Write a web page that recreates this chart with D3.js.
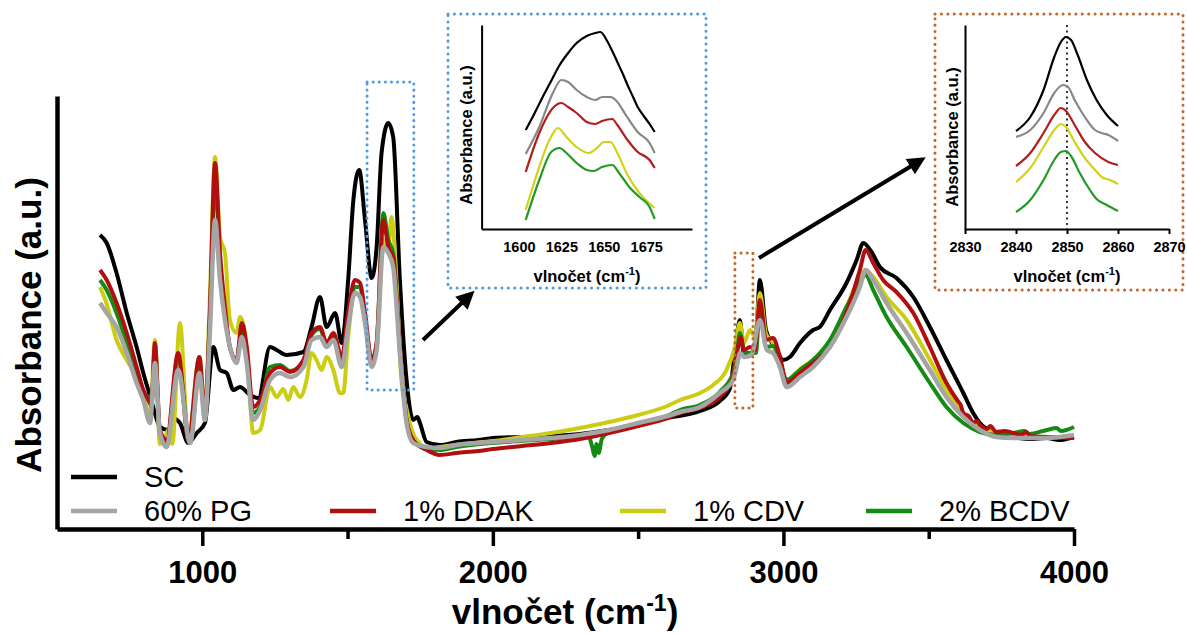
<!DOCTYPE html>
<html>
<head>
<meta charset="utf-8">
<script src="https://cdnjs.cloudflare.com/ajax/libs/d3/7.8.5/d3.min.js"></script>
<style>
  body { margin: 0; background: #fff; }
  svg { display: block; font-family: "Liberation Sans", Arial, sans-serif; }
</style>
</head>
<body>
<svg id="ftirChart" width="1187" height="634"></svg>
<script>
// FTIR spectra: [wavenumber cm-1, absorbance a.u.]
var scSpectrum = [[648,.294],[671,.286],[705,.256],[740,.216],[774,.182],[797,.156],[814,.139],[831,.122],[854,.102],[883,.099],[905,.110],[923,.106],[952,.086],[981,.096],[1009,.106],[1038,.182],[1061,.159],[1084,.156],[1107,.139],[1130,.142],[1164,.134],[1193,.131],[1233,.182],[1256,.179],[1290,.174],[1348,.177],[1376,.202],[1405,.232],[1428,.202],[1457,.216],[1480,.186],[1502,.249],[1520,.329],[1540,.359],[1560,.309],[1583,.251],[1600,.282],[1617,.376],[1640,.406],[1657,.392],[1680,.249],[1703,.149],[1726,.109],[1740,.112],[1749,.106],[1772,.087],[1818,.084],[1875,.087],[1950,.089],[2000,.091],[2100,.092],[2200,.093],[2300,.095],[2400,.099],[2500,.104],[2600,.111],[2713,.118],[2781,.128],[2815,.140],[2833,.176],[2850,.209],[2864,.174],[2890,.174],[2905,.190],[2919,.249],[2940,.199],[2959,.187],[2976,.179],[2999,.169],[3022,.172],[3057,.186],[3102,.199],[3125,.202],[3160,.219],[3217,.246],[3252,.269],[3275,.286],[3303,.277],[3332,.262],[3389,.251],[3447,.232],[3504,.202],[3561,.169],[3619,.136],[3653,.116],[3676,.106],[3733,.096],[3791,.092],[3850,.090],[3906,.091],[3950,.089],[4000,.092]];

var pgSpectrum = [[648,.226],[671,.216],[705,.202],[740,.176],[774,.146],[797,.129],[820,.106],[837,.166],[854,.096],[877,.082],[917,.159],[958,.086],[990,.156],[1009,.109],[1026,.196],[1044,.309],[1061,.249],[1078,.209],[1095,.182],[1118,.166],[1136,.192],[1153,.166],[1175,.109],[1199,.119],[1233,.149],[1267,.156],[1302,.152],[1348,.162],[1376,.189],[1405,.192],[1428,.182],[1451,.189],[1480,.162],[1502,.202],[1525,.236],[1543,.232],[1560,.206],[1583,.162],[1600,.179],[1623,.282],[1640,.276],[1657,.262],[1680,.176],[1703,.106],[1726,.086],[1772,.082],[1818,.081],[1875,.084],[1950,.086],[2000,.087],[2100,.089],[2200,.091],[2300,.094],[2400,.099],[2500,.106],[2600,.113],[2644,.117],[2713,.122],[2781,.136],[2827,.149],[2844,.169],[2850,.176],[2866,.172],[2890,.174],[2919,.209],[2943,.179],[2964,.176],[2988,.162],[3011,.142],[3057,.152],[3102,.162],[3160,.182],[3217,.212],[3263,.242],[3283,.259],[3309,.249],[3355,.226],[3424,.196],[3504,.159],[3561,.132],[3619,.112],[3676,.099],[3733,.092],[3791,.091],[3906,.091],[4000,.094]];

var ddakSpectrum = [[648,.259],[671,.249],[705,.226],[740,.196],[774,.162],[797,.139],[814,.129],[825,.125],[837,.186],[854,.099],[877,.089],[917,.176],[952,.089],[990,.172],[1009,.116],[1026,.216],[1044,.366],[1061,.276],[1078,.222],[1095,.182],[1118,.169],[1136,.206],[1153,.182],[1175,.122],[1199,.129],[1233,.156],[1267,.162],[1302,.157],[1348,.169],[1376,.196],[1405,.202],[1428,.186],[1451,.196],[1480,.172],[1502,.216],[1525,.249],[1543,.246],[1560,.216],[1583,.169],[1600,.186],[1623,.309],[1640,.282],[1657,.272],[1680,.182],[1703,.109],[1726,.089],[1772,.079],[1818,.074],[1875,.076],[1950,.078],[2000,.080],[2100,.083],[2200,.086],[2300,.090],[2400,.096],[2500,.103],[2600,.111],[2644,.116],[2713,.121],[2781,.132],[2827,.152],[2844,.182],[2853,.192],[2864,.179],[2885,.182],[2902,.179],[2919,.229],[2940,.189],[2964,.191],[2988,.172],[3011,.146],[3057,.156],[3102,.166],[3160,.182],[3217,.216],[3263,.259],[3283,.279],[3309,.266],[3343,.249],[3389,.237],[3447,.216],[3504,.182],[3561,.146],[3600,.128],[3610,.124],[3619,.116],[3640,.112],[3652,.106],[3665,.108],[3676,.104],[3700,.100],[3712,.103],[3733,.097],[3760,.098],[3791,.096],[3820,.094],[3835,.097],[3850,.093],[3906,.092],[4000,.091]];

var cdvSpectrum = [[648,.242],[671,.225],[705,.189],[740,.169],[774,.152],[797,.136],[820,.112],[837,.189],[854,.085],[870,.090],[885,.100],[897,.085],[923,.206],[952,.089],[990,.172],[1009,.116],[1026,.232],[1044,.372],[1061,.292],[1078,.276],[1095,.209],[1118,.196],[1130,.212],[1153,.182],[1175,.096],[1199,.099],[1233,.142],[1256,.132],[1279,.140],[1296,.129],[1313,.142],[1336,.132],[1359,.149],[1376,.176],[1393,.169],[1411,.159],[1428,.172],[1451,.159],[1474,.136],[1485,.136],[1502,.192],[1525,.242],[1543,.242],[1560,.209],[1583,.165],[1600,.179],[1623,.289],[1640,.282],[1651,.312],[1668,.250],[1685,.150],[1703,.120],[1726,.095],[1750,.085],[1772,.080],[1818,.082],[1900,.085],[2000,.088],[2100,.092],[2200,.096],[2300,.101],[2400,.107],[2500,.114],[2600,.123],[2644,.129],[2713,.136],[2758,.144],[2804,.159],[2833,.182],[2850,.206],[2864,.186],[2885,.199],[2902,.192],[2919,.236],[2940,.195],[2964,.186],[2988,.162],[3011,.149],[3057,.160],[3102,.169],[3160,.186],[3217,.222],[3263,.252],[3283,.259],[3309,.252],[3355,.232],[3424,.209],[3504,.169],[3561,.139],[3619,.116],[3676,.102],[3733,.096],[3791,.092],[4000,.092]];

var bcdvSpectrum = [[648,.249],[671,.239],[705,.216],[740,.186],[774,.156],[797,.136],[814,.132],[825,.122],[837,.179],[854,.096],[877,.086],[917,.169],[958,.086],[990,.162],[1009,.112],[1026,.210],[1044,.349],[1061,.265],[1078,.215],[1095,.182],[1118,.169],[1136,.198],[1153,.175],[1175,.116],[1199,.122],[1233,.162],[1267,.164],[1302,.158],[1348,.168],[1376,.194],[1405,.200],[1428,.185],[1451,.193],[1480,.166],[1502,.210],[1525,.242],[1543,.242],[1560,.212],[1583,.168],[1600,.185],[1623,.316],[1640,.289],[1657,.276],[1680,.180],[1703,.109],[1726,.088],[1772,.080],[1818,.079],[1875,.082],[2000,.086],[2100,.088],[2200,.090],[2300,.093],[2330,.092],[2342,.082],[2350,.073],[2357,.085],[2364,.076],[2375,.090],[2400,.097],[2500,.105],[2600,.113],[2644,.119],[2713,.124],[2781,.137],[2827,.156],[2844,.186],[2850,.196],[2866,.177],[2890,.176],[2905,.176],[2919,.222],[2940,.182],[2964,.183],[2988,.169],[3011,.149],[3057,.159],[3102,.169],[3160,.189],[3217,.222],[3263,.247],[3283,.254],[3309,.239],[3355,.212],[3424,.182],[3504,.146],[3561,.122],[3619,.106],[3676,.097],[3733,.094],[3791,.096],[3830,.098],[3845,.095],[3906,.099],[3940,.101],[3955,.098],[4000,.102]];

// amide I zoom (1600-1675 cm-1)
var amideSC = [[1604,.099],[1609,.115],[1614,.132],[1619,.148],[1624,.164],[1629,.176],[1634,.186],[1640,.193],[1645,.196],[1648,.197],[1652,.188],[1655,.178],[1658,.167],[1661,.156],[1664,.144],[1667,.133],[1670,.122],[1674,.112],[1677,.105],[1680,.097]];
var amidePG = [[1604,.075],[1612,.102],[1620,.136],[1625,.149],[1629,.147],[1634,.139],[1640,.132],[1645,.129],[1649,.132],[1654,.132],[1657,.129],[1663,.114],[1670,.097],[1677,.086],[1680,.076]];
var amideDDAK = [[1604,.057],[1612,.096],[1620,.121],[1625,.126],[1629,.122],[1634,.116],[1640,.107],[1645,.105],[1649,.108],[1655,.110],[1658,.104],[1664,.089],[1670,.077],[1677,.069],[1680,.061]];
var amideCDV = [[1604,.019],[1610,.052],[1618,.089],[1623,.101],[1628,.092],[1634,.082],[1641,.076],[1646,.081],[1650,.087],[1654,.087],[1658,.076],[1664,.054],[1671,.036],[1680,.021]];
var amideBCDV = [[1604,.009],[1612,.049],[1619,.077],[1624,.081],[1628,.076],[1634,.066],[1640,.059],[1644,.058],[1649,.062],[1655,.064],[1659,.056],[1665,.042],[1671,.032],[1677,.022],[1680,.010]];

// CH2 symmetric stretch zoom (2840-2860 cm-1)
var ch2SC = [[2840,.098],[2842.8,.112],[2845.4,.139],[2847.5,.172],[2848.8,.187],[2849.8,.192],[2850.8,.189],[2852.1,.174],[2853.9,.149],[2855.8,.129],[2857.8,.114],[2860,.103]];
var ch2PG = [[2840,.092],[2842.8,.099],[2845.4,.116],[2847.5,.136],[2849.2,.144],[2850.2,.142],[2851.5,.129],[2853.5,.112],[2855.5,.099],[2856.8,.096],[2858.1,.094],[2860,.088]];
var ch2DDAK = [[2840,.063],[2842.8,.076],[2845.4,.096],[2847.5,.114],[2848.8,.121],[2849.8,.118],[2851.5,.104],[2853.5,.087],[2855.5,.076],[2858.1,.067],[2860,.064]];
var ch2CDV = [[2840,.047],[2842.8,.061],[2845.4,.082],[2847.5,.099],[2848.8,.105],[2849.8,.102],[2851.5,.087],[2853.5,.071],[2855.5,.059],[2856.8,.052],[2858.4,.049],[2860,.045]];
var ch2BCDV = [[2840,.017],[2842.8,.029],[2845.4,.049],[2847.5,.069],[2848.8,.077],[2849.8,.078],[2850.9,.072],[2852.5,.056],[2854.5,.039],[2855.8,.030],[2857.8,.024],[2860,.018]];

var seriesNames = ["SC", "60% PG", "1% DDAK", "1% CDV", "2% BCDV"];
var seriesColors = ["#000000", "#a5a5a5", "#b10f0f", "#cccc12", "#148c14"];
var insetColors = ["#000000", "#878787", "#b31d1d", "#d2d21a", "#239a23"];
var mainTicks = [1000, 2000, 3000, 4000];
var mainMinorTicks = [1500, 2500, 3500];
var amideTicks = [1600, 1625, 1650, 1675];
var ch2Ticks = [2830, 2840, 2850, 2860, 2870];

var svg = d3.select("#ftirChart");

var x = d3.scaleLinear().domain([500, 4000]).range([57, 1074]);
var y = d3.scaleLinear().domain([0, 0.433]).range([529, 96]);

var mainLine = d3
  .line()
  .x(function(d) { return x(d[0]); })
  .y(function(d) { return y(d[1]); })
  .curve(d3.curveMonotoneX);

// draw order: black first, gray on top
var mainSeries = [
  { data: scSpectrum, idx: 0 },
  { data: cdvSpectrum, idx: 3 },
  { data: bcdvSpectrum, idx: 4 },
  { data: ddakSpectrum, idx: 2 },
  { data: pgSpectrum, idx: 1 }
];

svg.append("g")
  .selectAll("path")
  .data(mainSeries)
  .enter()
  .append("path")
  .attr("d", function(d) { return mainLine(d.data); })
  .attr("fill", "none")
  .attr("stroke", function(d) { return seriesColors[d.idx]; })
  .attr("stroke-width", function(d) { return d.idx === 1 ? 4.5 : 4; })
  .attr("stroke-linejoin", "round");

// axes
var xAxisG = svg.append("g")
  .attr("transform", "translate(0,529)")
  .call(d3.axisBottom(x).tickValues(mainTicks).tickSize(17).tickSizeOuter(0).tickPadding(15).tickFormat(d3.format("d")));
xAxisG.select(".domain").attr("stroke-width", 4.5);
xAxisG.selectAll(".tick line").attr("stroke-width", 3.5);
xAxisG.selectAll(".tick text")
  .attr("font-size", 31)
  .attr("font-weight", "bold")
  .attr("font-family", "Liberation Sans, Arial, sans-serif")
  .attr("fill", "#000");

var xMinorG = svg.append("g")
  .attr("transform", "translate(0,529)")
  .call(d3.axisBottom(x).tickValues(mainMinorTicks).tickSize(10).tickSizeOuter(0).tickFormat(""));
xMinorG.select(".domain").remove();
xMinorG.selectAll(".tick line").attr("stroke-width", 3.5);

var yAxisG = svg.append("g")
  .attr("transform", "translate(57,0)")
  .call(d3.axisLeft(y).tickValues([]).tickSizeOuter(0));
yAxisG.select(".domain").attr("stroke-width", 4.5);

svg.append("text")
  .attr("transform", "translate(41,325) rotate(-90)")
  .attr("text-anchor", "middle")
  .attr("font-size", 35)
  .attr("font-weight", "bold")
  .text("Absorbance (a.u.)");

var xTitle = svg.append("text")
  .attr("x", 565)
  .attr("y", 624)
  .attr("text-anchor", "middle")
  .attr("font-size", 35)
  .attr("font-weight", "bold");
xTitle.append("tspan").text("vlnočet (cm");
xTitle.append("tspan").attr("font-size", 23).attr("dy", -13).text("-1");
xTitle.append("tspan").attr("dy", 13).text(")");

// legend
var legendPos = [[71, 477], [71, 511], [330, 511], [620, 511], [866, 511]];
var legend = svg.append("g")
  .selectAll("g")
  .data(seriesNames)
  .enter()
  .append("g")
  .attr("transform", function(d, i) {
    return "translate(" + legendPos[i][0] + "," + legendPos[i][1] + ")";
  });
legend.append("line")
  .attr("x1", 0).attr("x2", 46)
  .attr("y1", 0).attr("y2", 0)
  .attr("stroke", function(d, i) { return seriesColors[i]; })
  .attr("stroke-width", 4.5);
legend.append("text")
  .attr("x", 73)
  .attr("y", 10)
  .attr("font-size", 29)
  .text(function(d) { return d; });

// zoom markers on the main plot
svg.append("rect")
  .attr("x", x(1567)).attr("y", 82)
  .attr("width", x(1728) - x(1567))
  .attr("height", y(0.139) - 82)
  .attr("fill", "none")
  .attr("stroke", "#4f9de0")
  .attr("stroke-width", 3)
  .attr("stroke-dasharray", "0.1 6")
  .attr("stroke-linecap", "round");

svg.append("rect")
  .attr("x", x(2833)).attr("y", y(0.276))
  .attr("width", x(2895) - x(2833))
  .attr("height", y(0.121) - y(0.276))
  .attr("fill", "none")
  .attr("stroke", "#c4662a")
  .attr("stroke-width", 3)
  .attr("stroke-dasharray", "0.1 6")
  .attr("stroke-linecap", "round");

// arrows
svg.append("defs")
  .append("marker")
  .attr("id", "arrowHead")
  .attr("viewBox", "0 0 10 10")
  .attr("refX", 5)
  .attr("refY", 5)
  .attr("markerUnits", "userSpaceOnUse")
  .attr("markerWidth", 20)
  .attr("markerHeight", 18)
  .attr("orient", "auto")
  .append("path")
  .attr("d", "M0,0L10,5L0,10z")
  .attr("fill", "#000");

var arrows = [[423, 340, 468, 297], [759, 258, 918, 162]];
svg.append("g")
  .selectAll("line")
  .data(arrows)
  .enter()
  .append("line")
  .attr("x1", function(d) { return d[0]; })
  .attr("y1", function(d) { return d[1]; })
  .attr("x2", function(d) { return d[2]; })
  .attr("y2", function(d) { return d[3]; })
  .attr("stroke", "#000")
  .attr("stroke-width", 4)
  .attr("marker-end", "url(#arrowHead)");

// insets
function drawInset(opts) {
  var g = svg.append("g");

  g.append("rect")
    .attr("x", opts.box[0]).attr("y", opts.box[1])
    .attr("width", opts.box[2]).attr("height", opts.box[3])
    .attr("fill", "#fff")
    .attr("stroke", opts.boxColor)
    .attr("stroke-width", 3)
    .attr("stroke-dasharray", "0.1 6.3")
    .attr("stroke-linecap", "round");

  var ix = d3.scaleLinear().domain(opts.xDomain).range([opts.left, opts.right]);
  var iy = d3.scaleLinear().domain([0, 0.204]).range([229, 25]);

  if (opts.marker) {
    g.append("line")
      .attr("x1", ix(opts.marker)).attr("x2", ix(opts.marker))
      .attr("y1", 25).attr("y2", 229)
      .attr("stroke", "#333")
      .attr("stroke-width", 2)
      .attr("stroke-dasharray", "2 3.5");
  }

  var insetLine = d3
    .line()
    .x(function(d) { return ix(d[0]); })
    .y(function(d) { return iy(d[1]); })
    .curve(d3.curveMonotoneX);

  g.selectAll(".insetLine")
    .data(opts.series)
    .enter()
    .append("path")
    .attr("class", "insetLine")
    .attr("d", function(d) { return insetLine(d); })
    .attr("fill", "none")
    .attr("stroke", function(d, i) { return insetColors[i]; })
    .attr("stroke-width", 2.2);

  var ax = g.append("g")
    .attr("transform", "translate(0,229)")
    .call(d3.axisBottom(ix).tickValues(opts.ticks).tickSize(opts.tickSize).tickSizeOuter(0).tickPadding(opts.tickPad).tickFormat(d3.format("d")));
  ax.select(".domain").attr("stroke-width", 2);
  ax.selectAll(".tick line").attr("stroke-width", 2);
  ax.selectAll(".tick text")
    .attr("font-size", 14.5)
    .attr("font-weight", "bold")
    .attr("font-family", "Liberation Sans, Arial, sans-serif")
    .attr("fill", "#000");

  var ay = g.append("g")
    .attr("transform", "translate(" + opts.left + ",0)")
    .call(d3.axisLeft(iy).tickValues([]).tickSizeOuter(0));
  ay.select(".domain").attr("stroke-width", 2);

  g.append("text")
    .attr("transform", "translate(" + opts.yTitle[0] + "," + opts.yTitle[1] + ") rotate(-90)")
    .attr("text-anchor", "middle")
    .attr("font-size", 16.5)
    .attr("font-weight", "bold")
    .text("Absorbance (a.u.)");

  var t = g.append("text")
    .attr("x", opts.xTitle[0])
    .attr("y", opts.xTitle[1])
    .attr("text-anchor", "middle")
    .attr("font-size", 16.5)
    .attr("font-weight", "bold");
  t.append("tspan").text("vlnočet (cm");
  t.append("tspan").attr("font-size", 11).attr("dy", -7).text("-1");
  t.append("tspan").attr("dy", 7).text(")");
}

drawInset({
  box: [448, 14, 258, 274],
  boxColor: "#4f9de0",
  xDomain: [1578, 1702],
  left: 481.6,
  right: 692,
  ticks: amideTicks,
  tickSize: 0,
  tickPad: 13,
  series: [amideSC, amidePG, amideDDAK, amideCDV, amideBCDV],
  yTitle: [472, 135],
  xTitle: [587, 282]
});

drawInset({
  box: [935, 14, 248, 276],
  boxColor: "#c4662a",
  xDomain: [2830, 2870],
  left: 965,
  right: 1169,
  ticks: ch2Ticks,
  tickSize: 5,
  tickPad: 8,
  marker: 2850,
  series: [ch2SC, ch2PG, ch2DDAK, ch2CDV, ch2BCDV],
  yTitle: [958, 137],
  xTitle: [1067, 282]
});
</script>
</body>
</html>
